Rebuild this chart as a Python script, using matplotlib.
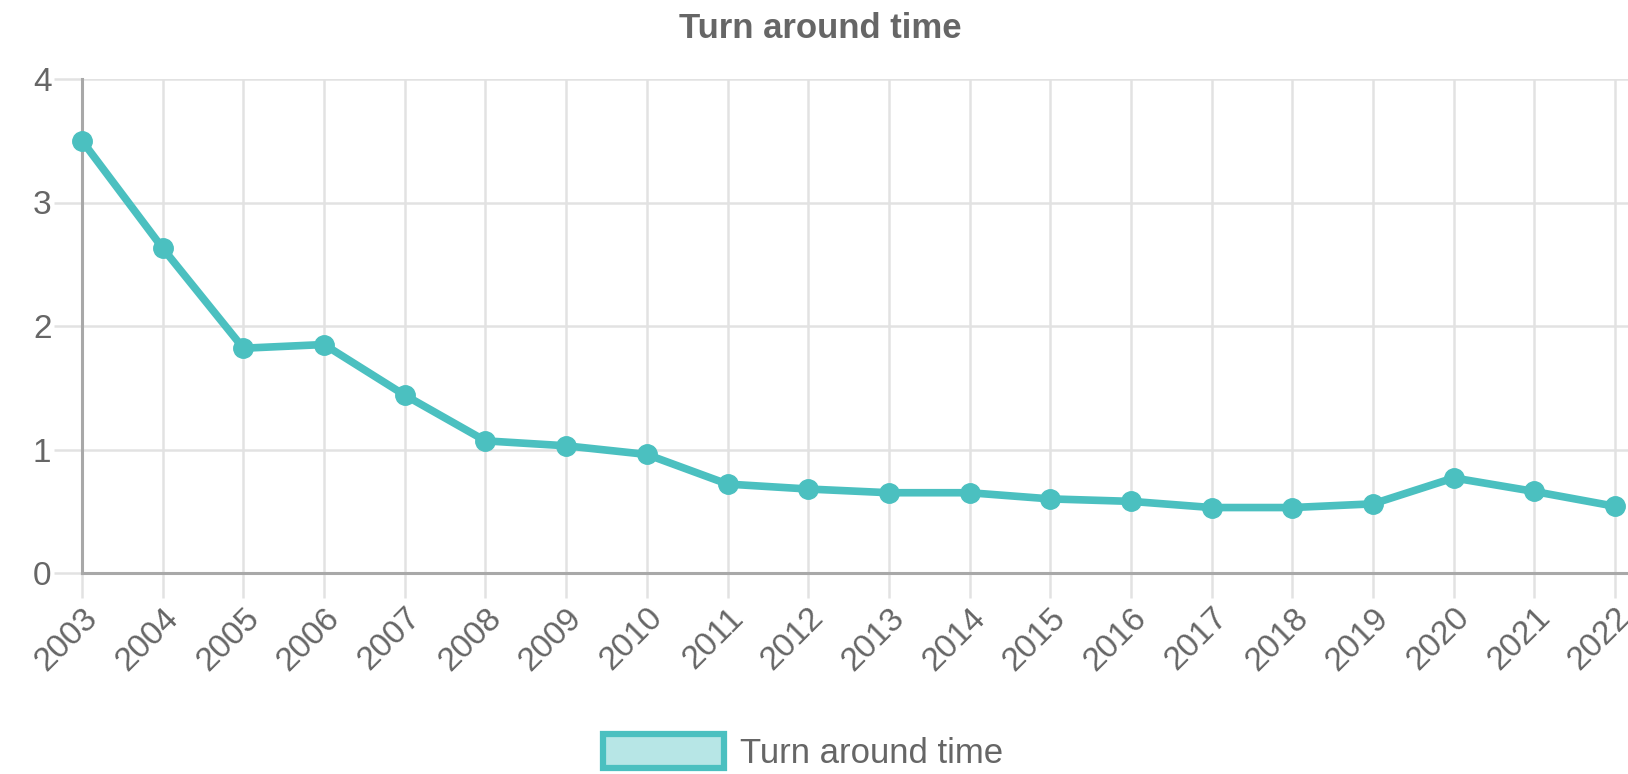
import matplotlib.pyplot as plt
from matplotlib.patches import Patch

plt.rcParams['font.family'] = ['Liberation Sans', 'DejaVu Sans']

# ===================== data =====================
years = [2003, 2004, 2005, 2006, 2007, 2008, 2009, 2010, 2011, 2012,
         2013, 2014, 2015, 2016, 2017, 2018, 2019, 2020, 2021, 2022]
turn_around = [3.50, 2.63, 1.82, 1.85, 1.44, 1.07, 1.03, 0.96, 0.72, 0.68,
               0.65, 0.65, 0.60, 0.58, 0.53, 0.53, 0.56, 0.77, 0.66, 0.54]
y_ticks = [0, 1, 2, 3, 4]

LINE = "#4bc0c0"
FILL = "#b7e6e6"
GRID = "#e2e2e2"
TEXT = "#666666"

W, H = 1628, 774
fig = plt.figure(figsize=(W / 100, H / 100), dpi=100)
ax = fig.add_axes([82 / W, 1 - 573 / H, 1 - 82 / W, (573 - 79) / H])

ax.plot(years, turn_around, color=LINE, lw=5.5, marker="o", ms=14,
        markerfacecolor=LINE, markeredgecolor=LINE, zorder=3, clip_on=False)

ax.set_xlim(years[0], years[-1] + 0.16)
ax.set_ylim(0, 4)
ax.set_xticks(years)
ax.set_xticklabels([str(y) for y in years], rotation=45, ha="right",
                   rotation_mode="anchor", fontsize=24, color=TEXT)
ax.set_yticks(y_ticks)
ax.set_yticklabels([str(v) for v in y_ticks], fontsize=24, color=TEXT)

ax.grid(True, color=GRID, lw=1.8)
ax.set_axisbelow(True)
ax.tick_params(axis="x", length=18, width=1.8, color=GRID, pad=3)
ax.tick_params(axis="y", length=20, width=1.8, color=GRID, pad=2)

for s in ["top", "right"]:
    ax.spines[s].set_visible(False)
for s in ["left", "bottom"]:
    ax.spines[s].set_color("#a8a8a8")
    ax.spines[s].set_linewidth(2.2)

fig.text(820 / W, 1 - 28 / H, "Turn around time", ha="center", va="center",
         fontsize=25, fontweight="bold", color=TEXT)

handle = Patch(facecolor=FILL, edgecolor=LINE, linewidth=4.5)
fig.legend([handle], ["Turn around time"], loc="center",
           bbox_to_anchor=(803 / W, 1 - 752 / H), frameon=False,
           fontsize=25, labelcolor=TEXT, handlelength=3.5, handleheight=1.1,
           handletextpad=0.45, borderpad=0.2)

fig.savefig("out.png", dpi=100)
